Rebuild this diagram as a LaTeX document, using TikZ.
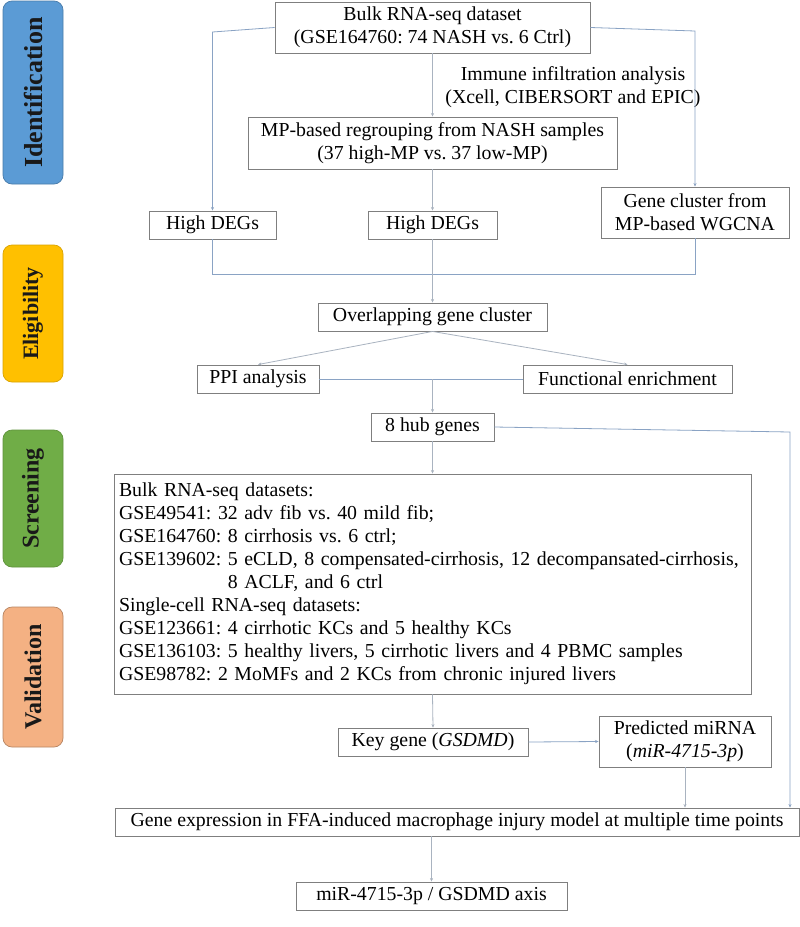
\documentclass[tikz,border=0pt]{standalone}
\usepackage{fontspec}
\setmainfont{Liberation Serif}
\usetikzlibrary{arrows.meta}
\frenchspacing
\definecolor{lineblue}{HTML}{8AA3C4}
\definecolor{linegrey}{HTML}{A9B3C0}
\definecolor{boxgrey}{HTML}{7F7F7F}
\definecolor{barblue}{HTML}{5B9BD5}
\definecolor{baryellow}{HTML}{FFC000}
\definecolor{bargreen}{HTML}{70AD47}
\definecolor{barorange}{HTML}{F4B183}
\tikzset{
  box/.style={draw=boxgrey, line width=0.9pt, fill=white, inner sep=0pt, align=center,
    font=\frenchspacing\fontsize{19.8}{23}\selectfont},
  bar/.style={rounded corners=9pt, line width=0.7pt, minimum width=60pt, inner sep=0pt},
  barlabel/.style={rotate=90, font=\bfseries\fontsize{24}{26}\selectfont, text=black!90},
  conn/.style={draw=lineblue, line width=0.8pt},
  connl/.style={draw=linegrey, line width=0.8pt},
  tip/.style={-{Stealth[length=3.5pt,width=3pt,fill=black!60]}},
  plain/.style={font=\frenchspacing\fontsize{19.8}{23}\selectfont, align=center, inner sep=0pt}
}
\begin{document}
\begin{tikzpicture}[x=1pt,y=-1pt]
\useasboundingbox (0,0) rectangle (800,927);
\fill[white] (0,0) rectangle (800,927);
% side bars
\node[bar, fill=barblue, draw=barblue!80!black, minimum height=183pt] (bId) at (33,92.5) {};
\node[barlabel, font=\bfseries\fontsize{26}{28}\selectfont] (tId) at (bId.center) {Identification};
\node[bar, fill=baryellow, draw=baryellow!85!black, minimum height=137pt] (bEl) at (33,313.5) {};
\node[barlabel, font=\bfseries\fontsize{22}{24}\selectfont] (tEl) at (bEl.center) {Eligibility};
\node[bar, fill=bargreen, draw=bargreen!85!black, minimum height=137pt] (bSc) at (33,498.5) {};
\node[barlabel] (tSc) at (bSc.center) {Screening};
\node[bar, fill=barorange, draw=barorange!75!black, minimum height=140pt] (bVa) at (33,677) {};
\node[barlabel] (tVa) at (bVa.center) {Validation};

% boxes
\node[box, minimum width=315pt, minimum height=51pt] (bulk) at (432.5,27.5) {Bulk RNA-seq dataset\\(GSE164760: 74 NASH vs. 6 Ctrl)};
\node[plain] (imm) at (573,87) {Immune infiltration analysis\\(Xcell, CIBERSORT and EPIC)};
\node[box, minimum width=369pt, minimum height=52pt] (mp) at (432.5,143) {MP-based regrouping from NASH samples\\(37 high-MP vs. 37 low-MP)};
\node[box, minimum width=127pt, minimum height=28pt] (hl) at (212.5,225) {High DEGs};
\node[box, minimum width=129pt, minimum height=28pt] (hm) at (432.5,225) {High DEGs};
\node[box, minimum width=188pt, minimum height=51pt] (gc) at (695,212.5) {Gene cluster from\\MP-based WGCNA};
\node[box, minimum width=229pt, minimum height=28pt] (ov) at (432.5,317) {Overlapping gene cluster};
\node[box, minimum width=122pt, minimum height=28pt] (ppi) at (258,379) {PPI analysis};
\node[box, minimum width=209pt, minimum height=28pt] (fe) at (627.5,379) {Functional enrichment};
\node[box, minimum width=123pt, minimum height=28pt] (hub) at (432.5,427) {8 hub genes};
\node[box, minimum width=637pt, minimum height=220pt, text width=627pt, align=left, inner xsep=5pt] (big) at (432.5,584) {%
Bulk RNA-seq datasets:\\
GSE49541: 32 adv fib vs. 40 mild fib;\\
GSE164760: 8 cirrhosis vs. 6 ctrl;\\
GSE139602: 5 eCLD, 8 compensated-cirrhosis, 12 decompansated-cirrhosis,\\
\hphantom{GSE139602: }8 ACLF, and 6 ctrl\\
Single-cell RNA-seq datasets:\\
GSE123661: 4 cirrhotic KCs and 5 healthy KCs\\
GSE136103: 5 healthy livers, 5 cirrhotic livers and 4 PBMC samples\\
GSE98782: 2 MoMFs and 2 KCs from chronic injured livers};
\node[box, minimum width=190pt, minimum height=28pt] (key) at (433,742) {Key gene (\textit{GSDMD})};
\node[box, minimum width=172pt, minimum height=51pt] (mir) at (685,741.5) {Predicted miRNA\\(\textit{miR-4715-3p})};
\node[box, minimum width=684pt, minimum height=28pt] (ge) at (457,822) {Gene expression in FFA-induced macrophage injury model at multiple time points};
\node[box, minimum width=271pt, minimum height=28pt] (fin) at (431.5,896) {miR-4715-3p / GSDMD axis};

% helper coordinates
\coordinate (cL) at (212.5,32);
\coordinate (cR) at (695,31);
\coordinate (jL) at (212.5,274);
\coordinate (jR) at (695,274);
\coordinate (mid) at (432.5,379);
\coordinate (r1) at (790,432);

% connectors
\draw[conn, tip] (bulk.west) -- (cL) -- (hl.north);
\draw[conn, tip] (bulk.east) -- (cR) -- (gc.north);
\draw[connl, tip] (bulk.south) -- (mp.north);
\draw[connl, tip] (mp.south) -- (hm.north);
\draw[conn] (hl.south) -- (jL) -- (jR) -- (gc.south);
\draw[connl, tip] (hm.south) -- (ov.north);
\draw[connl, tip] (ov.south) -- (ppi.north);
\draw[connl, tip] (ov.south) -- (fe.north);
\draw[conn] (ppi.east) -- (fe.west);
\draw[connl, tip] (mid) -- (hub.north);
\draw[conn, tip] (hub.east) -- (r1) -- (r1 |- ge.north);
\draw[connl, tip] (hub.south) -- (big.north);
\draw[connl, tip] (big.south) -- (key.north);
\draw[conn, tip] (key.east) -- (mir.west);
\draw[connl, tip] (mir.south) -- (mir.south |- ge.north);
\draw[connl, tip] (fin.north |- ge.south) -- (fin.north);
\end{tikzpicture}
\end{document}
